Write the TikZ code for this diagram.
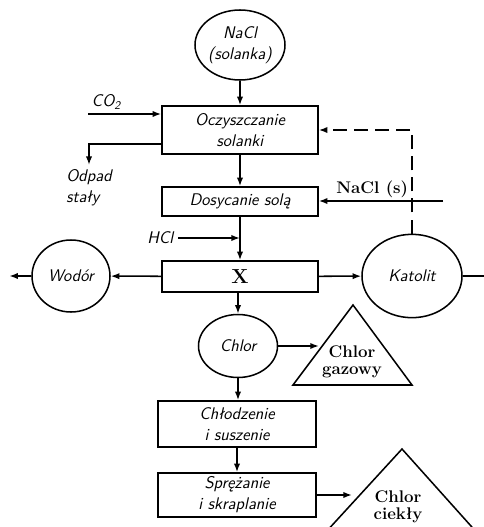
\documentclass[tikz,border=0pt]{standalone}
\usepackage{fontspec}
\usepackage{tikz}
\usetikzlibrary{arrows.meta,positioning,shapes.geometric,calc}

\begin{document}
\begin{tikzpicture}[x=0.03cm,y=-0.03cm,line width=1.3pt,
   proc/.style={draw,minimum width=4.68cm,align=center,font=\Large\sffamily\itshape,
               inner sep=1pt},
   ball/.style={draw,ellipse,align=center,font=\Large\sffamily\itshape,inner sep=0pt},
   lbl/.style={align=center,font=\Large\sffamily\itshape},
   prod/.style={align=center,font=\Large\bfseries,inner sep=2pt},
   arr/.style={-{Latex[length=2.6mm,width=1.9mm]}}]
  \useasboundingbox (0,0) rectangle (484,527);
  \clip (0,0) rectangle (484,527);

  \node[ball,minimum width=2.4cm,minimum height=2.1cm] (nacl) at (240,45) {NaCl\\(solanka)};
  \node[proc,minimum height=1.44cm] (ocz) at (240,130) {Oczyszczanie\\solanki};
  \node[proc,minimum height=0.87cm] (dos) at (240,201.5) {Dosycanie solą};
  \node[proc,minimum height=0.93cm,font=\LARGE\bfseries] (x) at (240,276.5) {X};
  \node[ball,minimum width=2.34cm,minimum height=2.16cm] (wod) at (71,276) {Wodór};
  \node[ball,minimum width=3.0cm,minimum height=2.5cm] (kat) at (412,276) {Katolit};
  \node[ball,minimum width=2.37cm,minimum height=1.89cm] (chlor) at (238,346) {Chlor};
  \node[proc,minimum width=4.74cm,minimum height=1.38cm] (chl) at (237,424) {Chłodzenie\\i suszenie};
  \node[proc,minimum width=4.74cm,minimum height=1.32cm] (spr) at (237,495) {Sprężanie\\i skraplanie};
  \node[lbl,align=left] (odpad) at (89,188) {Odpad\\stały};
  \node[prod] (gaz) at (352,362) {Chlor\\[-3pt]gazowy};
  \node[prod] (ciek) at (398,507) {Chlor\\[-3pt]ciekły};
  \coordinate (co2in) at (88,114);
  \coordinate (saltin) at (443,201);
  \coordinate (hclin) at (178,238);

  \draw (353,305) -- (412,385) -- (293,385) -- cycle;
  \draw (402,449) -- (488,545) -- (314,545) -- cycle;

  \draw[arr] (nacl) -- (ocz);
  \draw[arr] (co2in) -- (co2in -| ocz.west) node[pos=0.25,above,lbl]{CO\textsubscript{2}};
  \draw[arr] ([yshift=-0.42cm]ocz.west) -| (odpad.north);
  \draw[arr,dash pattern=on 12pt off 6pt] (kat.north) -- (kat.north |- ocz.east) -- (ocz.east);
  \draw[arr] (ocz) -- (dos);
  \draw[arr] (saltin) -- (saltin -| dos.east) node[pos=0.57,above,prod]{NaCl (s)};
  \draw[arr] (hclin) node[left,lbl]{HCl} -- (hclin -| dos.south);
  \draw[arr] (dos) -- (x);
  \draw[arr] (x) -- (wod);
  \draw[arr] (wod.west) -- ++(-22,0);
  \draw[arr] (x) -- (kat);
  \draw (kat.east) -- (484,276);
  \draw[arr] (x.south -| chlor.north) -- (chlor.north);
  \draw[arr] (chlor.east) -- (chlor.east -| gaz.west);
  \draw[arr] (chlor) -- (chlor |- chl.north);
  \draw[arr] (chl) -- (spr);
  \draw[arr] (spr.east) -- (352,495);
\end{tikzpicture}
\end{document}
